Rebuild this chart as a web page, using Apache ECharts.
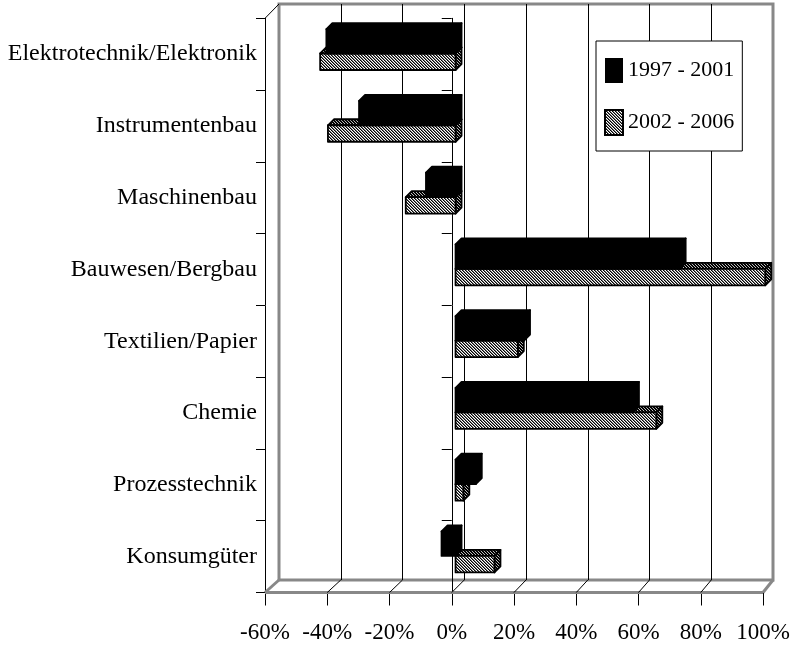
<!DOCTYPE html>
<html>
<head>
    <meta charset="utf-8">
    <title>Branchen 1997-2001 / 2002-2006</title>
    <script src="https://cdn.jsdelivr.net/npm/echarts@6/dist/echarts.min.js"></script>
    <style>
        html, body { margin: 0; padding: 0; background: #fff; }
        #main { width: 796px; height: 651px; }
    </style>
</head>
<body>
<div id="main"></div>
<script type="text/javascript">
    var categories = ['Elektrotechnik/Elektronik', 'Instrumentenbau', 'Maschinenbau', 'Bauwesen/Bergbau',
        'Textilien/Papier', 'Chemie', 'Prozesstechnik', 'Konsumgüter'];
    var seriesNames = ['1997 - 2001', '2002 - 2006'];
    var values9701 = [-41.5, -31, -9.5, 72, 22, 57, 6.5, -4.5];
    var values0206 = [-43.5, -41, -16, 99.5, 20, 64.5, 2.5, 12.5];
    var xTicks = [-60, -40, -20, 0, 20, 40, 60, 80, 100];

    var font = "'Liberation Serif', 'Times New Roman', serif";
    // front plane and back wall of the fake 3d box
    var front = { left: 265, right: 33, top: 18.3, bottom: 58.5 };
    var back = { left: 279, right: 23, top: 4, bottom: 71 };
    var W = 796, H = 651;

    // diagonal hatch fill like the old excel pattern
    function hatch(cols) {
        var step = cols.length;
        var c = document.createElement('canvas');
        c.width = step;
        c.height = step;
        var ctx = c.getContext('2d');
        for (var y = 0; y < step; y++) {
            for (var x = 0; x < step; x++) {
                ctx.fillStyle = cols[(x - y + step) % step];
                ctx.fillRect(x, y, 1, 1);
            }
        }
        return { image: c, repeat: 'repeat' };
    }
    var hatchFace = hatch(['#000', '#777', '#fff']);
    var hatchSide = hatch(['#000', '#000', '#bbb']);

    var DX = 3.8, SHIFT = -0.7, DEPTH = [6, -6];
    function bar3d(upper, face, side) {
        return function (params, api) {
            var v = api.value(0), ci = api.value(1);
            var p0 = api.coord([0, ci]), p1 = api.coord([v, ci]);
            var band = api.size([0, 1])[1];
            var h = upper ? band * 0.34 : band * 0.23;
            var top = upper ? p0[1] + SHIFT - h : p0[1] + SHIFT;
            var xa = Math.min(p0[0], p1[0]) + DX, xb = Math.max(p0[0], p1[0]) + DX;
            var dx = DEPTH[0], dy = DEPTH[1];
            var st = function (fill) {
                return { fill: fill, stroke: '#000', lineWidth: 1.8, lineJoin: 'round' };
            };
            return {
                type: 'group',
                children: [
                    { type: 'polygon', shape: { points: [[xa, top], [xb, top], [xb + dx, top + dy], [xa + dx, top + dy]] }, style: st(side) },
                    { type: 'polygon', shape: { points: [[xb, top], [xb + dx, top + dy], [xb + dx, top + h + dy], [xb, top + h]] }, style: st(side) },
                    { type: 'rect', shape: { x: xa, y: top, width: xb - xa, height: h }, style: st(face) }
                ]
            };
        };
    }

    function toData(arr) {
        return arr.map(function (v, i) { return [v, i]; });
    }

    var myChart = echarts.init(document.getElementById('main'), null, { renderer: 'canvas' });
    var option = {
        backgroundColor: '#fff',
        animation: false,
        grid: [
            { left: front.left, right: front.right, top: front.top, bottom: front.bottom, show: false },
            { left: back.left, right: back.right, top: back.top, bottom: back.bottom, show: true,
              borderColor: '#888', borderWidth: 3, backgroundColor: 'transparent' }
        ],
        xAxis: [
            {
                gridIndex: 0, type: 'value', min: -60, max: 100, interval: 20, position: 'bottom',
                axisLine: { show: true, onZero: false, lineStyle: { color: '#000', width: 1 } },
                axisTick: { show: true, length: 13, lineStyle: { color: '#000' } },
                axisLabel: { formatter: '{value}%', fontSize: 23, fontFamily: font, color: '#000', margin: 29, hideOverlap: false },
                splitLine: { show: false }
            },
            {
                gridIndex: 1, type: 'value', min: -60, max: 100, interval: 20,
                axisLine: { show: false }, axisTick: { show: false }, axisLabel: { show: false },
                splitLine: { show: true, showMinLine: false, showMaxLine: false, lineStyle: { color: '#000', width: 1 } }
            }
        ],
        yAxis: [
            {
                gridIndex: 0, type: 'category', data: categories, inverse: true, position: 'left',
                axisLine: { show: true, onZero: false, lineStyle: { color: '#000' } },
                axisTick: { show: true, length: 9, lineStyle: { color: '#000' } },
                axisLabel: { fontSize: 24, fontFamily: font, color: '#000', margin: 8 },
                splitLine: { show: false }
            },
            {
                // category axis crossing at 0%
                gridIndex: 0, type: 'category', data: categories, inverse: true, position: 'right',
                axisLine: { show: true, onZero: true, lineStyle: { color: '#000' } },
                axisTick: { show: true, inside: true, length: 10, lineStyle: { color: '#000' } },
                axisLabel: { show: false },
                splitLine: { show: false }
            },
            { gridIndex: 1, type: 'category', data: categories, show: false }
        ],
        legend: {
            left: 596, top: 41, orient: 'vertical',
            padding: [17, 8, 15, 8],
            itemWidth: 18, itemHeight: 25, itemGap: 26,
            backgroundColor: '#fff', borderColor: '#000', borderWidth: 1,
            selectedMode: false,
            textStyle: { fontSize: 22, fontFamily: font, color: '#000' },
            data: [
                { name: seriesNames[0], icon: 'rect', itemStyle: { color: '#000' } },
                { name: seriesNames[1], icon: 'rect', itemStyle: { color: hatchFace, borderColor: '#000', borderWidth: 2 } }
            ]
        },
        series: [
            {
                type: 'custom', name: seriesNames[1], xAxisIndex: 0, yAxisIndex: 0, z: 2,
                renderItem: bar3d(false, hatchFace, hatchSide),
                itemStyle: { color: hatchFace },
                encode: { x: 0, y: 1 },
                data: toData(values0206)
            },
            {
                type: 'custom', name: seriesNames[0], xAxisIndex: 0, yAxisIndex: 0, z: 3,
                renderItem: bar3d(true, '#000', '#000'),
                itemStyle: { color: '#000' },
                encode: { x: 0, y: 1 },
                data: toData(values9701)
            }
        ]
    };
    myChart.setOption(option);

    // floor and wall edges
    var fy = H - front.bottom, by = H - back.bottom;
    var fl = front.left, fr = W - front.right, bl = back.left, br = W - back.right;
    var gray = { stroke: '#888', lineWidth: 3 };
    var g = [
        { type: 'line', z: 1, shape: { x1: fl, y1: fy, x2: fr, y2: fy }, style: gray },
        { type: 'line', z: 1, shape: { x1: fl, y1: fy, x2: bl, y2: by }, style: gray },
        { type: 'line', z: 1, shape: { x1: fr, y1: fy, x2: br, y2: by }, style: gray },
        { type: 'line', z: 1, shape: { x1: fl, y1: front.top, x2: bl, y2: back.top }, style: { stroke: '#000', lineWidth: 1 } }
    ];
    xTicks.slice(1, -1).forEach(function (t) {
        var f = myChart.convertToPixel({ xAxisIndex: 0 }, t);
        var b = myChart.convertToPixel({ xAxisIndex: 1 }, t);
        g.push({ type: 'line', z: 1, shape: { x1: f, y1: fy, x2: b, y2: by }, style: { stroke: '#000', lineWidth: 1 } });
    });
    myChart.setOption({ graphic: g });
</script>
</body>
</html>
